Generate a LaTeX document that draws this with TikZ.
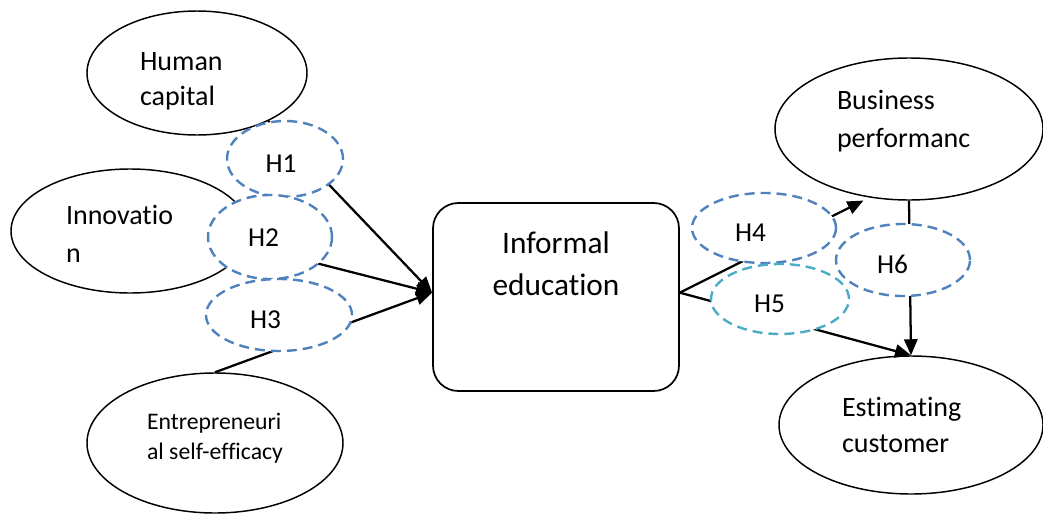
\documentclass[tikz,border=0pt]{standalone}
\usepackage{fontspec}
\setmainfont[Ligatures=NoCommon]{Carlito}
\usetikzlibrary{shapes.geometric,arrows.meta}
\definecolor{hblue}{HTML}{4F81BD}
\definecolor{hcyan}{HTML}{4BACC6}
\tikzset{
  var/.style={ellipse, draw, line width=1.1pt, inner sep=0pt, align=left, font=\fontsize{21}{26}\selectfont},
  hyp/.style={ellipse, draw=hblue, dash pattern=on 7.5pt off 4.5pt, line width=1.8pt, fill=white, inner sep=0pt, align=left, text height=20pt, font=\fontsize{20.5}{24}\selectfont},
  ebox/.style={rectangle, rounded corners=19pt, draw, line width=1.3pt, align=center, font=\fontsize{23.5}{31.5}\selectfont},
  link/.style={line width=1.7pt, -{Triangle[length=12pt,width=10pt]}},
}

\begin{document}
\begin{tikzpicture}[x=0.75pt, y=-0.75pt]
  \useasboundingbox (0,0) rectangle (1043,514);

  \node[var, minimum width=165pt, minimum height=93pt, text width=85.5pt, text height=25.5pt] (hc) at (197,73) {Human\\capital};
  \node[var, minimum width=178.5pt, minimum height=93pt, text width=96pt, text height=19.3pt, font=\fontsize{21}{28.5}\selectfont] (inn) at (130,231) {Innovatio\\n};
  \node[var, minimum width=192pt, minimum height=105pt, text depth=10pt, font=\fontsize{17.8}{23}\selectfont] (ent) at (215,443) {Entrepreneuri\\al self-efficacy};
  \node[ebox, minimum width=184.5pt, minimum height=141pt] (ie) at (556,297) {Informal\\education\\[18.5pt]\mbox{}};
  \node[var, minimum width=201pt, minimum height=106.5pt, text width=108pt, font=\fontsize{21}{29}\selectfont] (bp) at (909,129) {Business\\performanc\\[-14pt]\mbox{}};
  \node[var, minimum width=198pt, minimum height=103.5pt, text width=103.5pt, font=\fontsize{21}{27}\selectfont] (ec) at (911,425) {Estimating\\customer};

  \draw[link] (hc.326) -- (ie.178);
  \draw[link] (inn.353) -- (ie.178);
  \draw[link] (ent.north) -- (ie.178);
  \draw[link, shorten >=5pt] (ie.2) -- (bp.240);
  \draw[link] (ie.2) -- (ec.north);
  \draw[link] (bp.south) -- (ec.north);

  \node[hyp, minimum width=87pt, minimum height=57pt, text width=29pt] (h1) at (285,159) {H1};
  \node[hyp, minimum width=93pt, minimum height=63pt, text width=33pt, text height=14pt] (h2) at (270,237) {H2};
  \node[hyp, minimum width=109.5pt, minimum height=54pt, text width=43.5pt] (h3) at (279,315) {H3};
  \node[hyp, minimum width=108pt, minimum height=52.5pt, text width=43.5pt] (h4) at (764,228) {H4};
  \node[hyp, draw=hcyan, minimum width=103.5pt, minimum height=52.5pt, text width=39pt] (h5) at (780,299) {H5};
  \node[hyp, minimum width=100.5pt, minimum height=54pt, text width=39pt] (h6) at (903,260) {H6};
\end{tikzpicture}
\end{document}
